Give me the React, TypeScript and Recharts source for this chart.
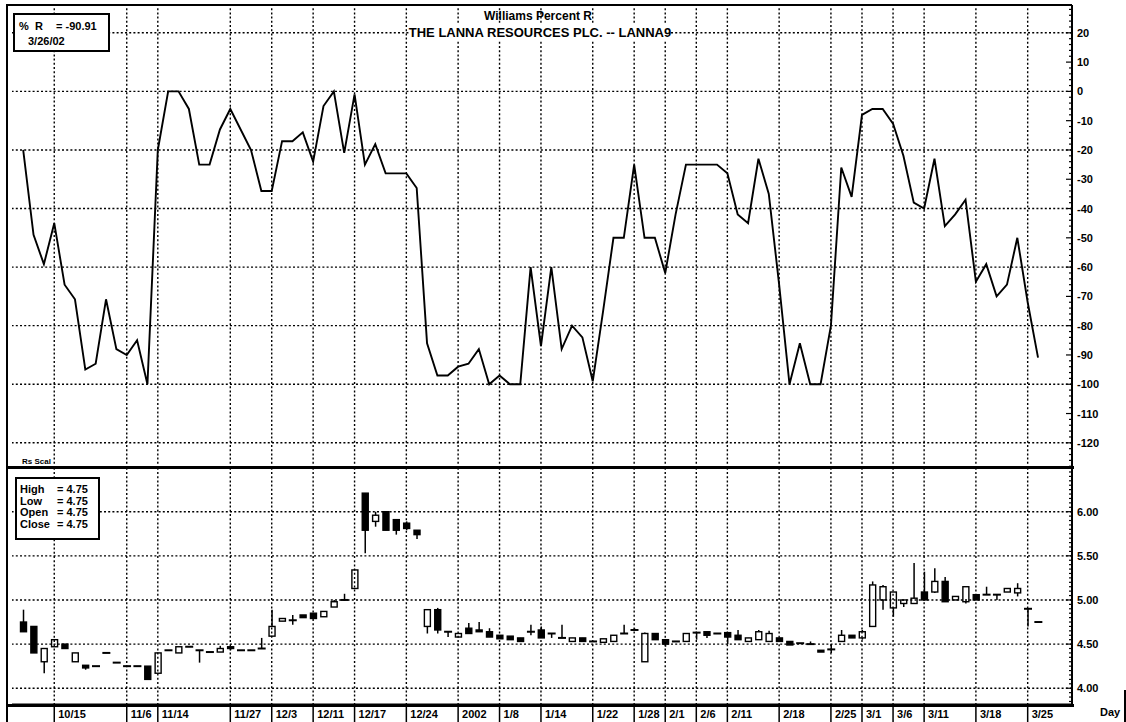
import React from 'react';
import { ComposedChart, Line, Bar, XAxis, YAxis, ReferenceLine } from 'recharts';

// trading days shown on the chart (days without trades are skipped)
const dates = [
  '10/10', '10/11', '10/12', '10/15', '10/17', '10/19', '10/24', '10/26', '10/30', '11/1',
  '11/6', '11/8', '11/12', '11/14', '11/15', '11/16', '11/19', '11/21', '11/22', '11/26',
  '11/27', '11/28', '11/29', '11/30', '12/3', '12/4', '12/6', '12/7', '12/11', '12/12',
  '12/13', '12/14', '12/17', '12/18', '12/19', '12/20', '12/21', '12/24', '12/25', '12/26',
  '12/27', '12/28', '1/2', '1/3', '1/4', '1/7', '1/8', '1/9', '1/10', '1/11',
  '1/14', '1/15', '1/16', '1/17', '1/21', '1/22', '1/23', '1/24', '1/25', '1/28',
  '1/29', '1/31', '2/1', '2/4', '2/5', '2/6', '2/7', '2/8', '2/11', '2/12',
  '2/13', '2/14', '2/15', '2/18', '2/19', '2/20', '2/21', '2/22', '2/25', '2/27',
  '2/28', '3/1', '3/4', '3/5', '3/6', '3/7', '3/8', '3/11', '3/12', '3/13',
  '3/14', '3/15', '3/18', '3/19', '3/20', '3/21', '3/22', '3/25', '3/26',
];

const tickDates = [
  '10/15', '11/6', '11/14', '11/27', '12/3', '12/11', '12/17', '12/24', '1/2', '1/8', '1/14',
  '1/22', '1/28', '2/1', '2/6', '2/11', '2/18', '2/25', '3/1', '3/6', '3/11', '3/18', '3/25',
];
const tickNames: Record<string, string> = { '1/2': '2002' };

// Williams %R
const wrValues = [
  -20, -49, -59, -45, -66, -71, -95, -93, -71, -88,
  -90, -85, -100, -20, 0, 0, -6, -25, -25, -13,
  -6, -13, -20, -34, -34, -17, -17, -14, -24, -5,
  0, -21, -1, -25, -18, -28, -28, -28, -33, -86,
  -97, -97, -94, -93, -88, -100, -97, -100, -100, -60,
  -87, -60, -88, -80, -84, -99, -75, -50, -50, -25,
  -50, -50, -62, -42, -25, -25, -25, -25, -28, -42,
  -45, -23, -35, -66, -100, -86, -100, -100, -80, -26,
  -36, -8, -6, -6, -11, -22, -38, -40, -23, -46,
  -42, -37, -65, -59, -70, -66, -50, -72, -90.91,
];

// daily prices (baht)
const openValues = [
  4.75, 4.70, 4.30, 4.47, 4.50, 4.30, 4.26, 4.25, 4.40, 4.29,
  4.25, 4.25, 4.25, 4.17, 4.43, 4.40, 4.47, 4.43, 4.41, 4.41,
  4.47, 4.43, 4.43, 4.45, 4.59, 4.76, 4.77, 4.83, 4.85, 4.81,
  4.92, 5.00, 5.13, 6.21, 5.89, 6.00, 5.91, 5.87, 5.79, 4.70,
  4.89, 4.64, 4.58, 4.68, 4.66, 4.64, 4.60, 4.59, 4.57, 4.64,
  4.66, 4.62, 4.57, 4.53, 4.57, 4.53, 4.52, 4.53, 4.62, 4.66,
  4.30, 4.62, 4.55, 4.53, 4.53, 4.63, 4.64, 4.62, 4.63, 4.60,
  4.53, 4.55, 4.53, 4.57, 4.53, 4.51, 4.50, 4.43, 4.44, 4.53,
  4.60, 4.57, 4.70, 5.00, 4.91, 4.96, 4.96, 5.09, 5.09, 5.21,
  5.00, 4.98, 5.06, 5.06, 5.06, 5.09, 5.08, 4.90, 4.75,
];
const highValues = [
  4.89, 4.70, 4.45, 4.55, 4.50, 4.40, 4.26, 4.25, 4.40, 4.29,
  4.25, 4.25, 4.25, 4.40, 4.43, 4.47, 4.47, 4.43, 4.41, 4.48,
  4.47, 4.43, 4.43, 4.57, 4.89, 4.79, 4.83, 4.83, 4.85, 4.87,
  5.00, 5.07, 5.34, 6.21, 6.00, 6.00, 5.91, 5.89, 5.79, 4.89,
  4.91, 4.64, 4.62, 4.74, 4.75, 4.68, 4.60, 4.59, 4.57, 4.72,
  4.70, 4.62, 4.72, 4.57, 4.57, 4.53, 4.56, 4.60, 4.72, 4.68,
  4.63, 4.62, 4.55, 4.53, 4.62, 4.63, 4.64, 4.62, 4.63, 4.66,
  4.57, 4.66, 4.65, 4.57, 4.53, 4.51, 4.53, 4.43, 4.50, 4.66,
  4.60, 4.66, 5.21, 5.17, 5.09, 5.00, 5.42, 5.32, 5.36, 5.26,
  5.04, 5.15, 5.06, 5.15, 5.06, 5.13, 5.19, 4.91, 4.75,
];
const lowValues = [
  4.64, 4.40, 4.17, 4.47, 4.45, 4.30, 4.21, 4.25, 4.40, 4.29,
  4.25, 4.25, 4.10, 4.17, 4.43, 4.40, 4.47, 4.29, 4.41, 4.41,
  4.43, 4.43, 4.43, 4.45, 4.59, 4.76, 4.72, 4.80, 4.79, 4.81,
  4.92, 5.00, 5.13, 5.53, 5.83, 5.79, 5.74, 5.79, 5.69, 4.62,
  4.62, 4.58, 4.58, 4.62, 4.64, 4.58, 4.56, 4.55, 4.53, 4.60,
  4.57, 4.57, 4.57, 4.53, 4.53, 4.53, 4.52, 4.53, 4.62, 4.66,
  4.30, 4.55, 4.47, 4.53, 4.53, 4.55, 4.57, 4.62, 4.50, 4.55,
  4.53, 4.55, 4.53, 4.53, 4.49, 4.51, 4.50, 4.41, 4.40, 4.53,
  4.57, 4.55, 4.70, 4.89, 4.81, 4.92, 4.96, 5.00, 5.08, 4.98,
  5.00, 4.96, 5.00, 5.06, 5.00, 5.09, 5.04, 4.70, 4.75,
];
const closeValues = [
  4.64, 4.40, 4.45, 4.55, 4.45, 4.40, 4.23, 4.25, 4.40, 4.29,
  4.25, 4.25, 4.10, 4.40, 4.43, 4.47, 4.47, 4.43, 4.41, 4.45,
  4.45, 4.43, 4.43, 4.45, 4.70, 4.79, 4.77, 4.80, 4.79, 4.87,
  4.98, 5.00, 5.34, 5.79, 5.96, 5.79, 5.79, 5.81, 5.74, 4.89,
  4.66, 4.64, 4.62, 4.62, 4.64, 4.58, 4.56, 4.55, 4.53, 4.64,
  4.57, 4.62, 4.57, 4.57, 4.53, 4.53, 4.56, 4.60, 4.62, 4.66,
  4.62, 4.55, 4.50, 4.53, 4.62, 4.63, 4.60, 4.62, 4.58, 4.55,
  4.57, 4.64, 4.62, 4.53, 4.49, 4.51, 4.50, 4.41, 4.44, 4.60,
  4.57, 4.64, 5.17, 5.15, 5.09, 5.00, 5.02, 5.00, 5.21, 4.98,
  5.04, 5.15, 5.00, 5.06, 5.06, 5.13, 5.13, 4.90, 4.75,
];

const wrLabelTicks = [20, 10, 0, -10, -20, -30, -40, -50, -60, -70, -80, -90, -100, -110, -120];
const wrGridLines = [20, 0, -20, -40, -60, -80, -100, -120];
const priceLabelTicks = [6, 5.5, 5, 4.5, 4];

const FONT = '"Liberation Sans", Arial, sans-serif';
const X_DOMAIN: [number, number] = [-1.08, 101.28];
const WR_DOMAIN: [number, number] = [-128.6, 29.5];
const PRICE_DOMAIN: [number, number] = [3.81, 6.495];
const DOTS = '2 2.2';

const rows = dates.map((date, i) => ({
  i,
  date,
  wr: wrValues[i],
  open: openValues[i],
  high: highValues[i],
  low: lowValues[i],
  close: closeValues[i],
}));
const tickIdx = tickDates.map((d) => dates.indexOf(d));

// axis comb ticks
const wrMinor: number[] = [];
for (let v = 28; v >= -128; v -= 2) wrMinor.push(v);
const wrLeft: number[] = [];
for (let k = -2; k <= 44; k++) wrLeft.push(+(20 - (k * 10) / 3).toFixed(3));
const priceMinor: number[] = [];
for (let k = 77; k <= 129; k++) priceMinor.push(+(k * 0.05).toFixed(2));

const makeRightTick = (isMajor: (v: number) => boolean, fmt: (v: number) => string) => (props: any) => {
  const { x, y, payload } = props;
  const v = payload.value;
  const major = isMajor(v);
  return (
    <g>
      <line x1={x - (major ? 6 : 3)} x2={x} y1={y} y2={y} stroke="#000" strokeWidth={1.2} />
      {major && (
        <text x={x + 5} y={y} dy={4} fontSize={11} fontWeight="bold" fontFamily={FONT} fill="#000">
          {fmt(v)}
        </text>
      )}
    </g>
  );
};

const WrTick = makeRightTick((v) => wrLabelTicks.includes(v), (v) => String(v));
const PriceTick = makeRightTick(
  (v) => priceLabelTicks.some((p) => Math.abs(p - v) < 1e-6),
  (v) => v.toFixed(2),
);

const LeftTick = (props: any) => {
  const { x, y } = props;
  return <line x1={x} x2={x + 3} y1={y} y2={y} stroke="#000" strokeWidth={1} />;
};

const DateTick = (props: any) => {
  const { x, y, payload } = props;
  const d = dates[payload.value];
  return (
    <g>
      <line x1={x} x2={x} y1={y} y2={y + 17} stroke="#000" strokeWidth={1.5} />
      <text x={x + 4} y={y + 13} fontSize={11} fontWeight="bold" fontFamily={FONT} fill="#000">
        {tickNames[d] ?? d}
      </text>
    </g>
  );
};

const Candle = (props: any) => {
  const { x, y, width, height, payload } = props;
  if (x == null || y == null || !payload) return null;
  const { open, high, low, close } = payload;
  const cx = x + width / 2;
  const k = high > low ? height / (high - low) : 0;
  const py = (v: number) => y + (high - v) * k;
  const top = py(Math.max(open, close));
  const bot = py(Math.min(open, close));
  const w = 6;
  return (
    <g>
      {high > low && <line x1={cx} x2={cx} y1={y} y2={y + height} stroke="#000" strokeWidth={1.5} />}
      {open === close ? (
        <line x1={cx - 4} x2={cx + 4} y1={top} y2={top} stroke="#000" strokeWidth={2} />
      ) : (
        <rect
          x={cx - w / 2}
          y={top}
          width={w}
          height={Math.max(bot - top, 1)}
          fill={close > open ? '#fff' : '#000'}
          stroke="#000"
          strokeWidth={1.4}
        />
      )}
    </g>
  );
};

const text = (left: number, top: number, s: string, size = 11): React.ReactNode => (
  <span style={{ position: 'absolute', left, top, fontSize: size, lineHeight: `${size + 2}px`, whiteSpace: 'pre' }}>{s}</span>
);

export default function App() {
  const last = rows[rows.length - 1];
  return (
    <div
      style={{
        position: 'absolute',
        left: 0,
        top: 0,
        width: 1126,
        height: 722,
        background: '#fff',
        overflow: 'hidden',
        fontFamily: FONT,
        fontWeight: 'bold',
        color: '#000',
      }}
    >
      {/* Williams %R panel */}
      <div style={{ position: 'absolute', left: 0, top: 0 }}>
        <ComposedChart width={1126} height={470} data={rows} margin={{ top: 5, right: 0, bottom: 2, left: 12 }}>
          <XAxis dataKey="i" type="number" domain={X_DOMAIN} allowDataOverflow ticks={tickIdx} hide />
          <YAxis
            orientation="right"
            width={54}
            type="number"
            domain={WR_DOMAIN}
            allowDataOverflow
            ticks={wrMinor}
            interval={0}
            tickSize={0}
            tickMargin={0}
            tickLine={false}
            tick={WrTick}
            axisLine={{ stroke: '#000', strokeWidth: 2 }}
          />
          <YAxis
            yAxisId="left"
            orientation="left"
            width={0}
            type="number"
            domain={WR_DOMAIN}
            allowDataOverflow
            ticks={wrLeft}
            interval={0}
            tickSize={0}
            tickMargin={0}
            tickLine={false}
            tick={LeftTick}
            axisLine={{ stroke: '#000', strokeWidth: 3 }}
          />
          {wrGridLines.map((v) => (
            <ReferenceLine key={`h${v}`} y={v} stroke="#000" strokeWidth={1.4} strokeDasharray={DOTS} />
          ))}
          {tickIdx.map((i) => (
            <ReferenceLine key={`v${i}`} x={i} stroke="#000" strokeWidth={1.4} strokeDasharray={DOTS} />
          ))}
          <Line dataKey="wr" type="linear" stroke="#000" strokeWidth={1.9} dot={false} isAnimationActive={false} />
        </ComposedChart>
      </div>

      {/* price panel */}
      <div style={{ position: 'absolute', left: 0, top: 468 }}>
        <ComposedChart width={1126} height={254} data={rows} margin={{ top: 0, right: 0, bottom: 0, left: 12 }}>
          <XAxis
            dataKey="i"
            type="number"
            domain={X_DOMAIN}
            allowDataOverflow
            ticks={tickIdx}
            interval={0}
            height={17}
            tickSize={0}
            tickMargin={0}
            tickLine={false}
            tick={DateTick}
            axisLine={{ stroke: '#000', strokeWidth: 3 }}
          />
          <YAxis
            orientation="right"
            width={54}
            type="number"
            domain={PRICE_DOMAIN}
            allowDataOverflow
            ticks={priceMinor}
            interval={0}
            tickSize={0}
            tickMargin={0}
            tickLine={false}
            tick={PriceTick}
            axisLine={{ stroke: '#000', strokeWidth: 2 }}
          />
          <YAxis
            yAxisId="left"
            orientation="left"
            width={0}
            type="number"
            domain={PRICE_DOMAIN}
            allowDataOverflow
            ticks={priceMinor}
            interval={0}
            tickSize={0}
            tickMargin={0}
            tickLine={false}
            tick={LeftTick}
            axisLine={{ stroke: '#000', strokeWidth: 3 }}
          />
          {priceLabelTicks.map((v) => (
            <ReferenceLine key={`h${v}`} y={v} stroke="#000" strokeWidth={1.4} strokeDasharray={DOTS} />
          ))}
          {tickIdx.map((i) => (
            <ReferenceLine key={`v${i}`} x={i} stroke="#000" strokeWidth={1.4} strokeDasharray={DOTS} />
          ))}
          <Bar
            dataKey={(d: any) => [d.low, d.high]}
            barSize={7}
            shape={Candle}
            isAnimationActive={false}
          />
        </ComposedChart>
      </div>

      {/* frame */}
      <div style={{ position: 'absolute', left: 6, top: 4, width: 1066, height: 2, background: '#000' }} />
      <div style={{ position: 'absolute', left: 6, top: 466, width: 1068, height: 3, background: '#000' }} />
      <div style={{ position: 'absolute', left: 6, top: 704, width: 1068, height: 3, background: '#000' }} />
      <div style={{ position: 'absolute', left: 6, top: 4, width: 2, height: 718, background: '#000' }} />
      <div style={{ position: 'absolute', left: 1124, top: 690, width: 2, height: 32, background: '#000' }} />

      {/* titles */}
      <div style={{ position: 'absolute', left: 338, top: 9, width: 400, textAlign: 'center', fontSize: 12 }}>
        Williams Percent R
      </div>
      <div style={{ position: 'absolute', left: 290, top: 25, width: 500, textAlign: 'center', fontSize: 13 }}>
        <span style={{ background: '#fff' }}>THE LANNA RESOURCES PLC. -- LANNA9</span>
      </div>

      {/* %R readout */}
      <div style={{ position: 'absolute', left: 13, top: 13, width: 93, height: 35, border: '2px solid #000', background: '#fff' }} />
      {text(19, 20, '%  R')}
      {text(56, 20, `= ${last.wr.toFixed(2)}`)}
      {text(28, 35, `${last.date}/02`)}

      {text(22, 457, 'Rs Scal', 8)}

      {/* OHLC readout */}
      <div style={{ position: 'absolute', left: 15, top: 477, width: 81, height: 59, border: '2px solid #000', background: '#fff' }} />
      {[
        ['High', last.high],
        ['Low', last.low],
        ['Open', last.open],
        ['Close', last.close],
      ].map(([name, v], k) => (
        <React.Fragment key={String(name)}>
          {text(20, 483 + k * 11.7, String(name))}
          {text(57, 483 + k * 11.7, `= ${(v as number).toFixed(2)}`)}
        </React.Fragment>
      ))}

      {text(1100, 706, 'Day')}
    </div>
  );
}
